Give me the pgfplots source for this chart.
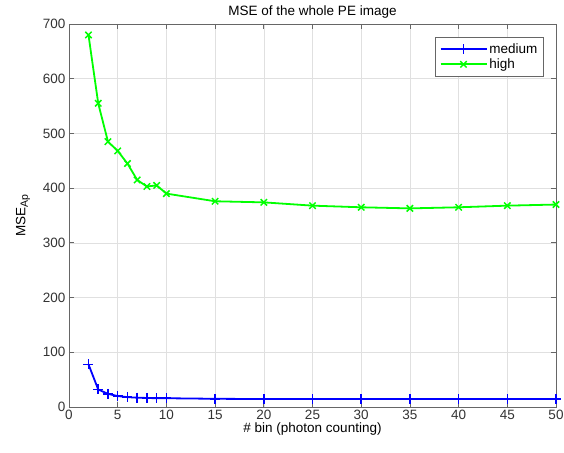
\documentclass[border=0pt]{standalone}
\usepackage{pgfplots}
\pgfplotsset{compat=1.18}
\usepackage{fontspec}
\setmainfont{Liberation Sans}
\newcommand{\fs}{\fontsize{13.5}{15}\selectfont}
\begin{document}
\begin{tikzpicture}
\begin{axis}[
  scale only axis,
  width=487pt, height=383pt,
  xmin=0, xmax=50, ymin=0, ymax=700,
  xtick={0,5,...,50}, ytick={0,100,...,700},
  /pgf/number format/assume math mode=true,
  tick label style={font=\fs, color=black!80},
  label style={font=\fs},
  title style={font=\fs, yshift=-4pt},
  title={MSE of the whole PE image},
  xlabel={\# bin (photon counting)},
  ylabel={MSE\raisebox{-0.35ex}{\fontsize{10.5}{11}\selectfont Ap}},
  ylabel style={yshift=6pt},
  xlabel style={yshift=4pt},
  grid=major,
  major grid style={color=black!12, line width=0.6pt},
  axis line style={color=black!60, line width=0.8pt},
  tick style={color=black!60, line width=0.8pt},
  tick align=inside,
  major tick length=5pt,
  legend style={at={(0.975,0.966)}, anchor=north east, font=\fs, draw=black!60, line width=0.8pt, inner xsep=4pt, inner ysep=4pt, row sep=0pt},
  legend cell align=left,
  legend image code/.code={
    \draw[mark repeat=2,mark phase=2] plot coordinates {(0pt,0pt) (23pt,0pt) (46pt,0pt)};
  },
]
\addplot[color=blue, line width=1.8pt, mark=+, mark size=5pt, mark options={line width=1.5pt}] coordinates {
(2,78) (3,32) (4,24) (5,20) (6,18) (7,17) (8,16.5) (9,16) (10,16) (15,15) (20,14.5) (25,14.5) (30,14.5) (35,14.5) (40,14.5) (45,14.5) (50,14.5)
};
\addlegendentry{medium}
\addplot[color=green, line width=1.8pt, mark=x, mark size=4.5pt, mark options={line width=1.5pt}] coordinates {
(2,680) (3,555) (4,485) (5,468) (6,445) (7,415) (8,403) (9,405) (10,390) (15,376) (20,374) (25,368) (30,365) (35,363) (40,365) (45,368) (50,370)
};
\addlegendentry{high}
\end{axis}
\pgfresetboundingbox
\path[use as bounding box] ([shift={(-69pt,-46pt)}]current axis.south west) rectangle ([shift={(8pt,24pt)}]current axis.north east);
\end{tikzpicture}
\end{document}
